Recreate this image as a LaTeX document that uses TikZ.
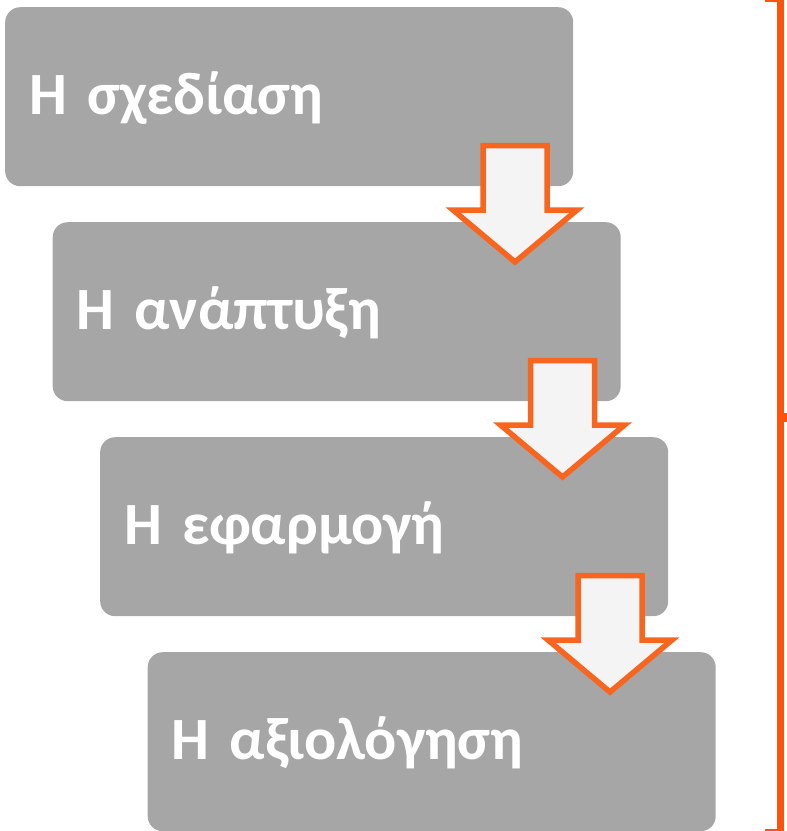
\documentclass[tikz,border=0pt]{standalone}
\usepackage{fontspec}
\setmainfont{Carlito}
\definecolor{boxgray}{HTML}{A6A6A6}
\definecolor{arrowline}{HTML}{F8651F}
\definecolor{arrowfill}{HTML}{F4F4F4}
\definecolor{bracketcol}{HTML}{FF520A}
\tikzset{
  stagebox/.style={anchor=north west, rectangle, rounded corners=15pt, fill=boxgray,
    minimum width=568pt, minimum height=179pt, text width=520pt, inner xsep=24pt,
    text height=35pt, text depth=0pt,
    align=left, text=white, font=\fontsize{60}{66}\selectfont\bfseries},
  downarrow/.style={draw=arrowline, fill=arrowfill, line width=5.5pt, line join=miter},
  bracketline/.style={draw=bracketcol, line width=7pt, line join=miter}
}
\begin{document}
\begin{tikzpicture}[x=1pt,y=-1pt]
\useasboundingbox (0,0) rectangle (787,831);
\node[stagebox] (s1) at (5,7) {Η σχεδίαση};
\node[stagebox] (s2) at (52.5,222) {Η ανάπτυξη};
\node[stagebox] (s3) at (100,437) {Η εφαρμογή};
\node[stagebox] (s4) at (147.5,652) {Η αξιολόγηση};
\foreach \dx/\dy in {0/0, 47.5/215, 95/430}{
  \begin{scope}[shift={(\dx,\dy)}]
    \draw[downarrow] (483,145.5) -- (547,145.5) -- (547,210) -- (577,210) -- (515,262)
      -- (453,210) -- (483,210) -- cycle;
  \end{scope}
}
\draw[bracketline] (765,-1.5) -- (780.5,-1.5) -- (780.5,832.5) -- (765,832.5);
\draw[draw=bracketcol, line width=9pt] (780,417) -- (790,417);
\end{tikzpicture}
\end{document}
